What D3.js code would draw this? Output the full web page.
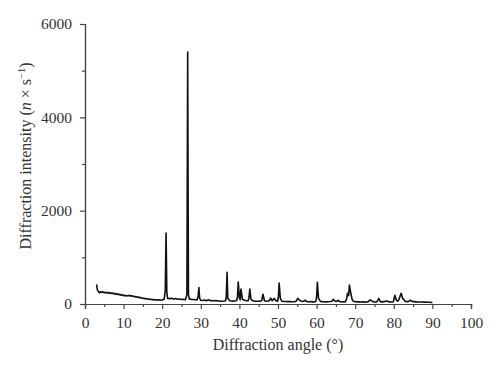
<!DOCTYPE html>
<html><head><meta charset="utf-8">
<script src="https://cdn.jsdelivr.net/npm/d3@7"></script>
<style>body{margin:0;background:#fff}svg{display:block}text{font-family:"Liberation Serif","Times New Roman",serif;fill:#333}</style>
</head><body><svg id="c" width="500" height="373"></svg>
<script>
const xTicks = [0,10,20,30,40,50,60,70,80,90,100];
const yTicks = [0,2000,4000,6000];
const angles = [3.0,3.2,3.5,3.75,4,4.25,4.5,4.75,5,5.25,5.5,5.75,6,6.25,6.5,6.75,7,7.25,7.5,7.75,8,8.25,8.5,8.75,9,9.25,9.5,9.75,10,10.25,10.5,10.75,11,11.25,11.5,11.75,12,12.25,12.5,12.75,13,13.25,13.5,13.75,14,14.25,14.5,14.75,15,15.25,15.5,15.75,16,16.25,16.5,16.75,17,17.25,17.5,17.75,18,18.25,18.5,18.75,19,19.25,19.5,19.75,20,20.5,20.8,21.0,21.2,21.4,22,22.5,23,23.5,24,24.5,25,25.5,26,26.4,26.6,26.8,27,27.5,28,28.5,29,29.3,29.5,29.7,30,30.5,31,31.5,32,32.5,33,33.5,34,34.5,35,35.5,36,36.4,36.6,36.8,37,37.5,38,38.5,39,39.3,39.5,39.7,40,40.2,40.4,40.8,41.5,42,42.3,42.5,42.7,43,43.5,44,44.5,45,45.5,45.8,46.1,46.5,47,47.5,47.8,48.1,48.5,48.7,49,49.5,49.9,50.1,50.3,50.6,51,51.5,52,52.5,53,53.5,54,54.5,54.8,55.1,55.5,56,56.5,57,57.5,58,58.5,59,59.5,59.8,60.0,60.2,60.5,61,61.5,62,62.5,63,63.5,64,64.3,64.8,65.2,65.5,66,66.5,67,67.5,67.8,68.0,68.3,68.5,68.8,69.2,69.5,70,70.5,71,71.5,72,72.5,73,73.4,73.6,73.9,74.5,75,75.5,75.8,76.1,76.5,77,77.5,77.8,78.2,78.8,79.5,79.9,80.1,80.3,80.6,81,81.3,81.6,81.9,82.3,83,83.5,83.9,84.2,85,86,87,88,89,90];
const intensity = [420,300,265,240,262,250,268,245,255,238,250,236,248,230,242,226,236,222,230,212,224,206,216,198,208,190,200,182,192,176,184,170,178,186,172,182,168,176,160,166,152,158,144,150,136,142,128,132,120,124,112,116,106,110,100,104,96,100,92,96,88,92,86,90,84,88,82,86,88,100,300,1520,250,120,115,125,105,118,100,108,95,100,92,200,5400,200,110,100,95,90,88,150,355,120,80,75,85,70,90,70,75,68,72,65,62,60,65,70,150,680,120,70,65,62,68,75,150,470,130,90,320,100,75,68,72,150,320,100,70,62,60,58,62,80,210,70,60,65,80,125,70,90,120,70,60,150,450,120,60,55,52,50,55,50,48,52,70,120,90,60,55,80,50,48,50,45,48,55,150,465,120,55,50,48,45,48,52,60,100,60,55,80,50,48,45,50,120,230,180,405,260,100,60,50,45,48,42,45,40,45,50,70,88,55,45,42,70,120,50,45,50,60,65,45,42,50,130,185,90,60,90,160,230,120,55,50,60,80,50,45,42,40,38,32,30];
const data = angles.map((a,i)=>({a, v:intensity[i]}));

const svg = d3.select("#c");
const x = d3.scaleLinear().domain([0,100]).range([85,471]);
const y = d3.scaleLinear().domain([0,6000]).range([304,24]);
const axisCol = "#444";

svg.append("g").attr("transform","translate(0,304)")
  .call(d3.axisBottom(x).tickValues(d3.range(5,100,10)).tickSize(3).tickFormat(""));
svg.append("g").attr("transform","translate(0,304)")
  .call(d3.axisBottom(x).tickValues(xTicks).tickSize(5).tickPadding(8).tickFormat(d3.format("d")));
svg.append("g").attr("transform","translate(85,0)")
  .call(d3.axisLeft(y).tickValues([1000,3000,5000]).tickSize(3).tickFormat(""));
svg.append("g").attr("transform","translate(85,0)")
  .call(d3.axisLeft(y).tickValues(yTicks).tickSize(5).tickPadding(8).tickFormat(d3.format("d")));
svg.selectAll(".domain").attr("stroke",axisCol).attr("stroke-width",1.2);
svg.selectAll(".tick line").attr("stroke",axisCol).attr("stroke-width",1.2);
svg.selectAll(".tick text").attr("font-size",15.5).attr("fill","#333").attr("font-family",'"Liberation Serif",serif');

svg.append("path").datum(data)
  .attr("d", d3.line().x(d=>x(d.a)).y(d=>y(d.v)))
  .attr("fill","none").attr("stroke","#111").attr("stroke-width",1.6).attr("stroke-linejoin","round");

svg.append("text").attr("x",278).attr("y",350).attr("text-anchor","middle").attr("font-size",16)
  .text("Diffraction angle (°)");

const yl = svg.append("text").attr("transform","translate(31,156) rotate(-90)").attr("text-anchor","middle").attr("font-size",16);
yl.append("tspan").text("Diffraction intensity (");
yl.append("tspan").attr("font-style","italic").text("n");
yl.append("tspan").text(" × s");
yl.append("tspan").attr("font-size",10.5).attr("dy",-6).text("−1");
yl.append("tspan").attr("dy",6).text(")");
</script></body></html>
